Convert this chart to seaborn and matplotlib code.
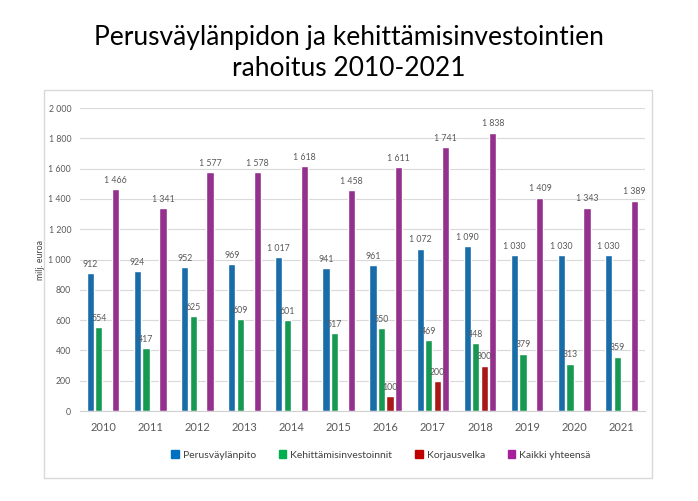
import matplotlib
matplotlib.use("Agg")
import matplotlib.pyplot as plt
import pandas as pd
import seaborn as sns
from matplotlib.patches import Rectangle

years = ["2010", "2011", "2012", "2013", "2014", "2015",
         "2016", "2017", "2018", "2019", "2020", "2021"]
perus = [912, 924, 952, 969, 1017, 941, 961, 1072, 1090, 1030, 1030, 1030]
kehitys = [554, 417, 625, 609, 601, 517, 550, 469, 448, 379, 313, 359]
korjaus = [0, 0, 0, 0, 0, 0, 100, 200, 300, 0, 0, 0]
kaikki = [1466, 1341, 1577, 1578, 1618, 1458, 1611, 1741, 1838, 1409, 1343, 1389]
series_names = ["Perusväylänpito", "Kehittämisinvestoinnit", "Korjausvelka", "Kaikki yhteensä"]
yticks = [0, 200, 400, 600, 800, 1000, 1200, 1400, 1600, 1800, 2000]

colors = {
    "Perusväylänpito": "#0070C0",
    "Kehittämisinvestoinnit": "#00B050",
    "Korjausvelka": "#C00000",
    "Kaikki yhteensä": "#A5209A",
}
txt_gray = "#595959"

def fmt(v):
    # finnish style thousands separator
    return f"{v:,}".replace(",", " ")

df = pd.DataFrame({"vuosi": years * 4,
                   "sarja": [s for s in series_names for _ in years],
                   "arvo": perus + kehitys + korjaus + kaikki})

sns.set_style("white")
plt.rcParams["font.family"] = ["Lato", "DejaVu Sans"]

fig = plt.figure(figsize=(6.98, 5.01), dpi=100)
ax = fig.add_axes([0.114, 0.1796, 0.81, 0.6048])

sns.barplot(data=df, x="vuosi", y="arvo", hue="sarja", palette=colors,
            width=0.72, gap=0.15, ax=ax, legend=False)

for cont, vals in zip(ax.containers, [perus, kehitys, korjaus, kaikki]):
    ax.bar_label(cont, labels=[fmt(v) if v else "" for v in vals],
                 padding=3, fontsize=6.3, color=txt_gray)

ax.set_xlim(-0.5, 11.5)
ax.set_ylim(0, 2000)
ax.set_yticks(yticks)
ax.set_yticklabels([fmt(v) for v in yticks], fontsize=6.3, color=txt_gray)
ax.set_xlabel("")
ax.set_ylabel("milj. euroa", fontsize=6.3, color="#404040")
ax.yaxis.set_label_coords(-0.062, 0.5)
ax.tick_params(axis="x", labelsize=8, colors=txt_gray, length=0, pad=8)
ax.tick_params(axis="y", length=0, pad=6)
ax.set_xticks([i - 0.5 for i in range(13)], minor=True)
ax.tick_params(axis="x", which="minor", length=3, color="#d0d0d0")
ax.yaxis.grid(True, color="#d9d9d9", linewidth=0.8)
ax.set_axisbelow(True)
for s in ["top", "right", "left"]:
    ax.spines[s].set_visible(False)
ax.spines["bottom"].set_color("#d0d0d0")

handles = [Rectangle((0, 0), 1, 1, color=colors[s]) for s in series_names]
fig.legend(handles, series_names, loc="center", bbox_to_anchor=(0.546, 0.092),
           ncol=4, frameon=False, fontsize=7.5, handlelength=0.7, handleheight=0.7,
           handletextpad=0.4, columnspacing=2.2, labelcolor="#404040")

fig.add_artist(Rectangle((44 / 698, 1 - 478 / 501), 608 / 698, 388 / 501,
                         transform=fig.transFigure, fill=False,
                         edgecolor="#d9d9d9", linewidth=1))

fig.text(0.5, 0.895, "Perusväylänpidon ja kehittämisinvestointien\nrahoitus 2010-2021",
         ha="center", va="center", fontsize=19, linespacing=1.3, color="black")

plt.savefig("out.png", dpi=100)
